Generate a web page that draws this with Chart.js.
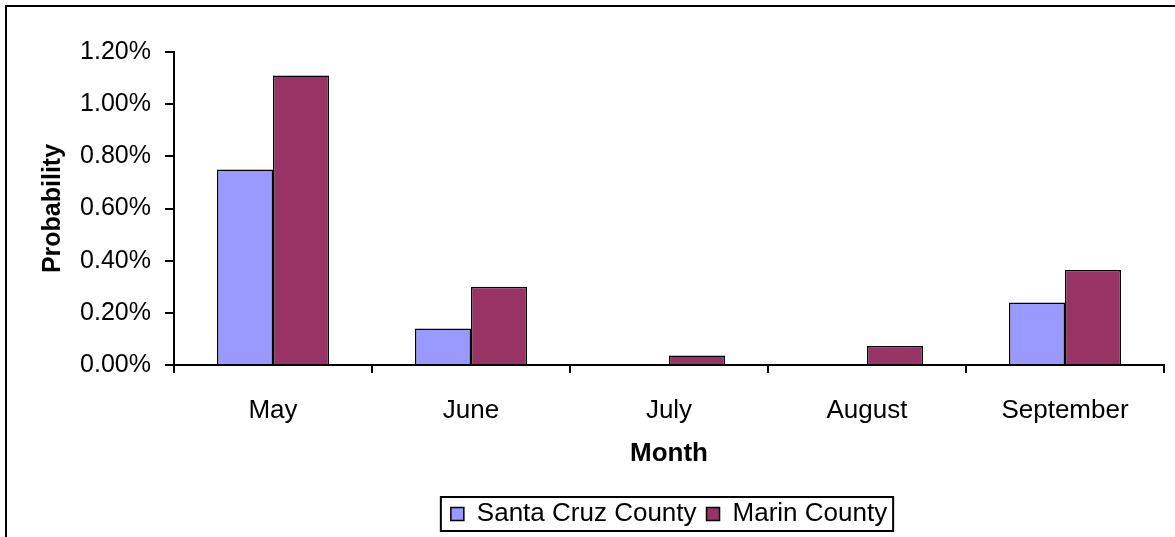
<!DOCTYPE html>
<html>
<head>
<meta charset="utf-8">
<script src="https://cdn.jsdelivr.net/npm/chart.js@4/dist/chart.umd.min.js"></script>
<style>
  html, body { margin: 0; padding: 0; background: #fff; overflow: hidden; }
  #wrap { position: relative; width: 1175px; height: 537px; }
</style>
</head>
<body>
<div id="wrap"><canvas id="chart"></canvas></div>
<script>
const months = ["May", "June", "July", "August", "September"];
const santaCruz = [0.0075, 0.0014, 0, 0, 0.0024];
const marin = [0.0111, 0.0030, 0.00036, 0.00073, 0.00364];
const yTicks = [0, 0.002, 0.004, 0.006, 0.008, 0.010, 0.012];

const FONT = "'Liberation Sans', Arial, sans-serif";

// outer frame (only left and top edges are visible in the picture)
const framePlugin = {
  id: "frame",
  beforeDraw(chart) {
    const ctx = chart.ctx;
    ctx.save();
    ctx.fillStyle = "#fff";
    ctx.fillRect(0, 0, chart.width, chart.height);
    ctx.strokeStyle = "#000";
    ctx.lineWidth = 2;
    ctx.beginPath();
    ctx.moveTo(6, chart.height);
    ctx.lineTo(6, 6);
    ctx.lineTo(chart.width, 6);
    ctx.stroke();
    ctx.restore();
  }
};

// box round the legend items
const legendBox = {
  id: "legendBox",
  afterDraw(chart) {
    const boxes = chart.legend.legendHitBoxes;
    if (!boxes || !boxes.length) return;
    let l = Infinity, r = -Infinity, t = Infinity, b = -Infinity;
    boxes.forEach(h => {
      l = Math.min(l, h.left); r = Math.max(r, h.left + h.width);
      t = Math.min(t, h.top); b = Math.max(b, h.top + h.height);
    });
    const ctx = chart.ctx;
    ctx.save();
    ctx.strokeStyle = "#000";
    ctx.lineWidth = 2;
    ctx.strokeRect(l - 10, t - 4, r - l + 16, b - t + 8);
    ctx.restore();
  }
};

new Chart(document.getElementById("chart"), {
  type: "bar",
  data: {
    labels: months,
    datasets: [
      {
        label: "Santa Cruz County",
        data: santaCruz,
        backgroundColor: "#9999FF",
        borderColor: "#000",
        borderWidth: 1.5,
        categoryPercentage: 0.566,
        barPercentage: 1.0
      },
      {
        label: "Marin County",
        data: marin,
        backgroundColor: "#993366",
        borderColor: "#000",
        borderWidth: 1.5,
        categoryPercentage: 0.566,
        barPercentage: 1.0
      }
    ]
  },
  options: {
    responsive: true,
    maintainAspectRatio: false,
    animation: false,
    layout: { padding: { left: 0, right: 11, top: 52, bottom: 0 } },
    plugins: {
      tooltip: { enabled: false },
      legend: {
        position: "bottom",
        fullSize: false,
        labels: {
          color: "#000",
          font: { family: FONT, size: 26 },
          boxWidth: 13,
          boxHeight: 13,
          padding: 10
        }
      }
    },
    scales: {
      x: {
        offset: true,
        border: { color: "#000", width: 2 },
        grid: { display: true, offset: true, drawOnChartArea: false, color: "#000", lineWidth: 2, tickLength: 8 },
        ticks: { color: "#000", font: { family: FONT, size: 26 }, padding: 22, maxRotation: 0 },
        title: {
          display: true,
          text: "Month",
          color: "#000",
          font: { family: FONT, size: 26, weight: "bold" },
          padding: { top: 10, bottom: 22 }
        },
        afterFit(scale) { scale.height = 126; }
      },
      y: {
        min: 0,
        max: 0.012,
        border: { color: "#000", width: 2 },
        grid: { display: true, drawOnChartArea: false, color: "#000", lineWidth: 2, tickLength: 9 },
        afterBuildTicks(scale) { scale.ticks = yTicks.map(v => ({ value: v })); },
        ticks: {
          color: "#000",
          font: { family: FONT, size: 25 },
          padding: 14,
          callback: v => (v * 100).toFixed(2) + "%"
        },
        title: {
          display: true,
          text: "Probability",
          color: "#000",
          font: { family: FONT, size: 25, weight: "bold" },
          padding: { top: 38, bottom: 0 }
        },
        afterFit(scale) { scale.width = 174; }
      }
    }
  },
  plugins: [framePlugin, legendBox]
});
</script>
</body>
</html>
